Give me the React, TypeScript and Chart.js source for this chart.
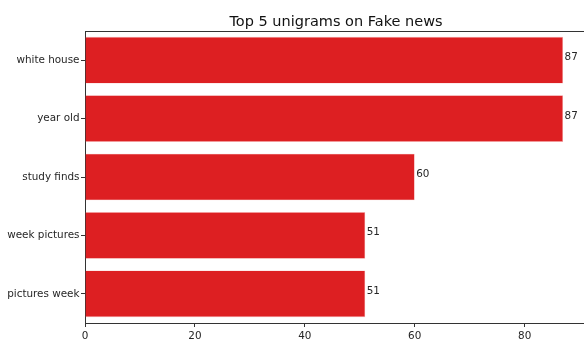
import React, { useEffect, useRef } from "react";
import { Chart, registerables } from "chart.js";

Chart.register(...registerables);

const categories = ["white house", "year old", "study finds", "week pictures", "pictures week"];
const counts = [87, 87, 60, 51, 51];
const xTicks = [0, 20, 40, 60, 80];
const titleText = "Top 5 unigrams on Fake news";

const FONT = "DejaVu Sans";
const TEXT = "#262626";
const SPINE = "#333333";

const titlePlugin = {
  id: "mplTitle",
  afterDraw(chart: any) {
    const { ctx, chartArea } = chart;
    ctx.save();
    ctx.font = `14.5px "${FONT}"`;
    ctx.fillStyle = "#111";
    ctx.textAlign = "center";
    ctx.textBaseline = "alphabetic";
    ctx.fillText(titleText, (chartArea.left + chartArea.right) / 2, 26);
    // top and right spines
    ctx.strokeStyle = SPINE;
    ctx.lineWidth = 1;
    ctx.beginPath();
    ctx.moveTo(chartArea.left, chartArea.top + 0.5);
    ctx.lineTo(chartArea.right, chartArea.top + 0.5);
    ctx.lineTo(chartArea.right, chartArea.bottom);
    ctx.stroke();
    ctx.restore();
  },
};

const valueLabels = {
  id: "valueLabels",
  afterDatasetsDraw(chart: any) {
    const { ctx } = chart;
    const meta = chart.getDatasetMeta(0);
    ctx.save();
    ctx.font = `10.4px "${FONT}"`;
    ctx.fillStyle = TEXT;
    ctx.textAlign = "left";
    ctx.textBaseline = "alphabetic";
    meta.data.forEach((bar: any, i: number) => {
      ctx.fillText(String(counts[i]), bar.x + 1.5, bar.y);
    });
    ctx.restore();
  },
};

export default function App() {
  const ref = useRef<HTMLCanvasElement>(null);
  useEffect(() => {
    if (!ref.current) return;
    const chart = new Chart(ref.current, {
      type: "bar",
      data: {
        labels: categories,
        datasets: [
          {
            data: counts,
            backgroundColor: "#dd1f22",
            borderColor: "rgba(240,120,120,0.6)",
            borderWidth: 0.6,
            categoryPercentage: 0.8,
            barPercentage: 1,
          },
        ],
      },
      options: {
        indexAxis: "y",
        animation: false,
        responsive: false,
        maintainAspectRatio: false,
        layout: { padding: { top: 31, right: 13, left: 0, bottom: 0 } },
        plugins: {
          legend: { display: false },
          title: { display: false },
          tooltip: { enabled: false },
        },
        scales: {
          x: {
            type: "linear",
            min: 0,
            max: 91.35,
            afterBuildTicks(scale: any) {
              scale.ticks = xTicks.map((v) => ({ value: v }));
            },
            afterFit(scale: any) {
              scale.height = 18;
            },
            grid: {
              display: true,
              drawOnChartArea: false,
              drawTicks: true,
              tickLength: 4,
              color: SPINE,
            },
            border: { display: true, color: SPINE, width: 1 },
            ticks: {
              font: { family: FONT, size: 10.4 },
              color: TEXT,
              padding: 3,
              maxRotation: 0,
            },
          },
          y: {
            type: "category",
            offset: true,
            afterFit(scale: any) {
              scale.width = 85;
            },
            grid: {
              display: true,
              drawOnChartArea: false,
              drawTicks: true,
              tickLength: 4,
              color: SPINE,
              offset: false,
            },
            border: { display: true, color: SPINE, width: 1 },
            ticks: {
              font: { family: FONT, size: 10.4 },
              color: TEXT,
              padding: 1.5,
            },
          },
        },
      },
      plugins: [titlePlugin, valueLabels],
    });
    return () => chart.destroy();
  }, []);

  return (
    <div
      style={{
        position: "fixed",
        left: 0,
        top: 0,
        width: 584,
        height: 341,
        overflow: "hidden",
        background: "#fff",
      }}
    >
      <canvas ref={ref} width={600} height={341} style={{ display: "block", width: 600, height: 341 }} />
    </div>
  );
}
